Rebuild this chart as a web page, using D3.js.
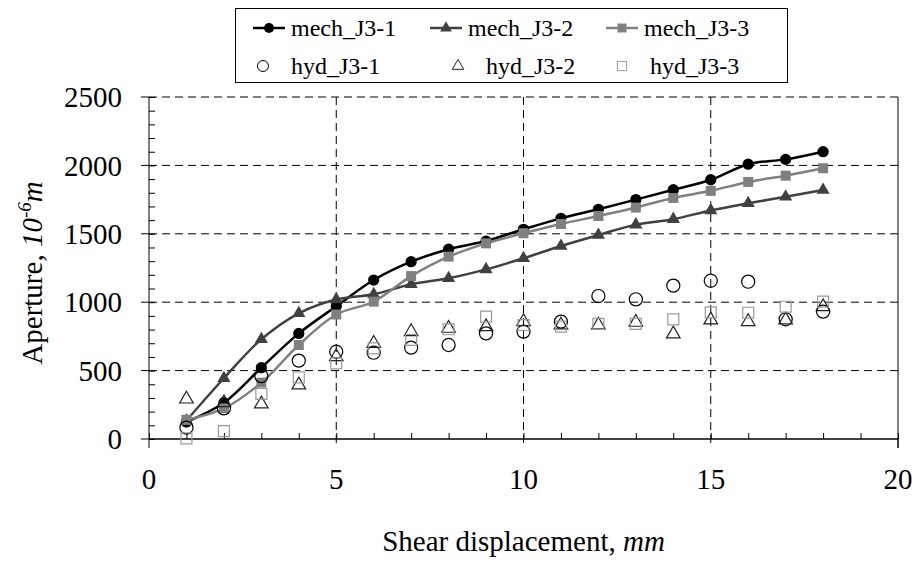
<!DOCTYPE html>
<html>
<head>
<meta charset="utf-8">
<script src="https://cdn.jsdelivr.net/npm/d3@7"></script>
<style>
    body { margin: 0; background: #fff; }
</style>
</head>
<body>
<div id="chart"></div>
<script>
// shear displacement (mm)
var disp = [1, 2, 3, 4, 5, 6, 7, 8, 9, 10, 11, 12, 13, 14, 15, 16, 17, 18];

// aperture, 10^-6 m
var mechJ31 = [125, 265, 521, 772, 970, 1162, 1296, 1387, 1447, 1533, 1613, 1679, 1750, 1822, 1895, 2009, 2044, 2100];
var mechJ32 = [135, 444, 729, 919, 1020, 1058, 1131, 1175, 1240, 1321, 1411, 1491, 1567, 1607, 1671, 1723, 1771, 1820];
var mechJ33 = [140, 224, 412, 687, 910, 1004, 1191, 1333, 1430, 1504, 1572, 1630, 1692, 1762, 1814, 1879, 1925, 1979];
var hydJ31 = [83, 224, 460, 573, 638, 631, 668, 687, 772, 785, 858, 1045, 1021, 1121, 1157, 1150, 875, 931];
var hydJ32 = [292, 265, 256, 395, 602, 699, 785, 809, 821, 858, 833, 833, 853, 768, 870, 858, 870, 967];
var hydJ33 = [5, 58, 329, 451, 553, 663, 724, 802, 894, 833, 821, 841, 841, 875, 926, 923, 967, 1004];

var xTicks = [0, 5, 10, 15, 20];
var yTicks = [0, 500, 1000, 1500, 2000, 2500];

var mechSeries = [
    { name: "mech_J3-1", values: mechJ31, color: "#000000", symbol: d3.symbolCircle, size: 100 },
    { name: "mech_J3-2", values: mechJ32, color: "#404040", symbol: d3.symbolTriangle, size: 75 },
    { name: "mech_J3-3", values: mechJ33, color: "#808080", symbol: d3.symbolSquare, size: 100 }
];
var hydSeries = [
    { name: "hyd_J3-1", values: hydJ31, color: "#000000", symbol: d3.symbolCircle, size: 135 },
    { name: "hyd_J3-2", values: hydJ32, color: "#222222", symbol: d3.symbolTriangle, size: 80 },
    { name: "hyd_J3-3", values: hydJ33, color: "#999999", symbol: d3.symbolSquare, size: 120 }
];

var serif = "'Liberation Serif', 'DejaVu Serif', 'Times New Roman', serif";

var margin = { top: 97, right: 20, bottom: 126, left: 149 };
var width = 918, height = 565;
var w = width - margin.left - margin.right;
var h = height - margin.top - margin.bottom;

var svg = d3.select("#chart").append("svg")
    .attr("width", width)
    .attr("height", height)
    .attr("font-family", serif);

var g = svg.append("g")
    .attr("transform", "translate(" + margin.left + "," + margin.top + ")");

var x = d3.scaleLinear().domain([0, 20]).range([0, w]);
var y = d3.scaleLinear().domain([0, 2500]).range([h, 0]);

// dashed grid
g.selectAll(".hgrid")
    .data(yTicks.filter(function(d) { return d > 0; }))
    .enter().append("line")
    .attr("class", "hgrid")
    .attr("x1", 0).attr("x2", w)
    .attr("y1", d => y(d)).attr("y2", d => y(d))
    .attr("stroke", "#000").attr("stroke-width", 1)
    .attr("stroke-dasharray", "8,5");

g.selectAll(".vgrid")
    .data([5, 10, 15])
    .enter().append("line")
    .attr("class", "vgrid")
    .attr("y1", 0).attr("y2", h + 9)
    .attr("x1", d => x(d)).attr("x2", d => x(d))
    .attr("stroke", "#000").attr("stroke-width", 1)
    .attr("stroke-dasharray", "8,5");

// right border
g.append("line")
    .attr("x1", w).attr("x2", w).attr("y1", 0).attr("y2", h + 9)
    .attr("stroke", "#000");

// axes: minor ticks inside, major crossing
var yAxis = d3.axisRight(y).tickValues(d3.range(0, 2501, 100)).tickSize(6).tickFormat("");
g.append("g").attr("class", "axis").call(yAxis)
    .call(a => a.select(".domain").remove());
g.selectAll(".ymajor")
    .data(yTicks)
    .enter().append("line")
    .attr("x1", -8).attr("x2", 0)
    .attr("y1", d => y(d)).attr("y2", d => y(d))
    .attr("stroke", "#000");
g.append("line").attr("x1", 0).attr("x2", 0).attr("y1", 0).attr("y2", h).attr("stroke", "#000");

var xAxis = d3.axisTop(x).tickValues(d3.range(0, 21, 1)).tickSize(6).tickFormat("");
g.append("g").attr("class", "axis")
    .attr("transform", "translate(0," + h + ")")
    .call(xAxis)
    .call(a => a.select(".domain").remove());
g.selectAll(".xmajor")
    .data([0, 20])
    .enter().append("line")
    .attr("x1", d => x(d)).attr("x2", d => x(d))
    .attr("y1", h).attr("y2", h + 9)
    .attr("stroke", "#000");
g.append("line").attr("x1", 0).attr("x2", w).attr("y1", h).attr("y2", h).attr("stroke", "#000").attr("stroke-width", 1.5);
g.selectAll(".axis line").attr("stroke", "#000");

// tick labels
g.selectAll(".ylab")
    .data(yTicks)
    .enter().append("text")
    .attr("x", -27)
    .attr("y", d => y(d))
    .attr("dy", "0.35em")
    .attr("text-anchor", "end")
    .attr("font-size", 29)
    .text(d => d);

g.selectAll(".xlab")
    .data(xTicks)
    .enter().append("text")
    .attr("x", d => x(d))
    .attr("y", h + 50)
    .attr("text-anchor", "middle")
    .attr("font-size", 29)
    .text(d => d);

// axis titles
var xt = svg.append("text")
    .attr("x", margin.left + w / 2)
    .attr("y", 551)
    .attr("text-anchor", "middle")
    .attr("font-size", 29);
xt.append("tspan").text("Shear displacement, ");
xt.append("tspan").attr("font-style", "italic").text("mm");

var yt = svg.append("text")
    .attr("transform", "translate(42,273) rotate(-90)")
    .attr("text-anchor", "middle")
    .attr("font-size", 29);
yt.append("tspan").text("Aperture, ");
yt.append("tspan").attr("font-style", "italic").text("10");
yt.append("tspan").attr("font-style", "italic").attr("font-size", 19).attr("dy", "-11").text("-6");
yt.append("tspan").attr("font-style", "italic").attr("dy", "11").text("m");

// mech lines
var line = d3.line()
    .x(function(d, i) { return x(disp[i]); })
    .y(function(d) { return y(d); })
    .curve(d3.curveCatmullRom.alpha(0.5));

mechSeries.forEach(function(s) {
    g.append("path")
        .datum(s.values)
        .attr("d", line)
        .attr("fill", "none")
        .attr("stroke", s.color)
        .attr("stroke-width", 2.5);
    g.selectAll(null)
        .data(s.values)
        .enter().append("path")
        .attr("transform", function(d, i) { return "translate(" + x(disp[i]) + "," + y(d) + ")"; })
        .attr("d", d3.symbol().type(s.symbol).size(s.size))
        .attr("fill", s.color);
});

hydSeries.forEach(function(s) {
    g.selectAll(null)
        .data(s.values)
        .enter().append("path")
        .attr("transform", function(d, i) { return "translate(" + x(disp[i]) + "," + y(d) + ")"; })
        .attr("d", d3.symbol().type(s.symbol).size(s.size))
        .attr("fill", "none")
        .attr("stroke", s.color)
        .attr("stroke-width", 1.2);
});

// legend
var legend = svg.append("g");
legend.append("rect")
    .attr("x", 235.5).attr("y", 8.5)
    .attr("width", 552).attr("height", 74)
    .attr("fill", "#fff").attr("stroke", "#000");

var colX = [253, 430, 606];
mechSeries.forEach(function(s, i) {
    var lg = legend.append("g").attr("transform", "translate(" + colX[i] + ",28)");
    lg.append("line").attr("x1", 0).attr("x2", 32).attr("stroke", s.color).attr("stroke-width", 2.5);
    lg.append("path").attr("transform", "translate(16,0)")
        .attr("d", d3.symbol().type(s.symbol).size(s.size * 0.8))
        .attr("fill", s.color);
    lg.append("text").attr("x", 38).attr("dy", "0.35em").attr("font-size", 24).text(s.name);
});
var hydX = [263, 458, 622];
hydSeries.forEach(function(s, i) {
    var lg = legend.append("g").attr("transform", "translate(" + hydX[i] + ",66)");
    lg.append("path")
        .attr("d", d3.symbol().type(s.symbol).size(s.size * 0.7))
        .attr("fill", "none")
        .attr("stroke", s.color);
    lg.append("text").attr("x", 28).attr("dy", "0.35em").attr("font-size", 24).text(s.name);
});
</script>
</body>
</html>
